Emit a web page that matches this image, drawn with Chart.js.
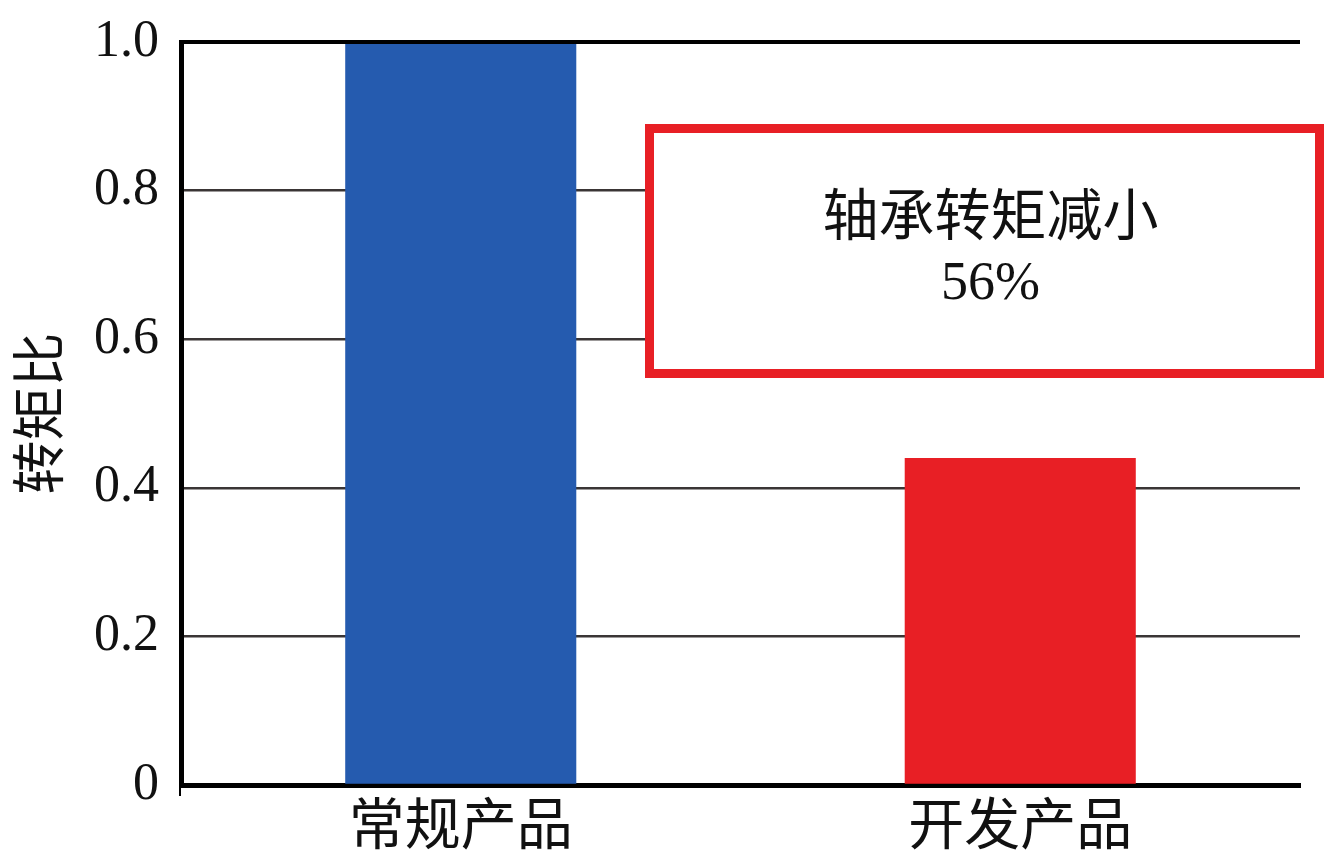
<!DOCTYPE html>
<html>
<head>
<meta charset="utf-8">
<script src="https://cdn.jsdelivr.net/npm/chart.js@4.4.1/dist/chart.umd.min.js"></script>
<style>
  html, body { margin: 0; padding: 0; background: #fff; }
  #wrap { width: 1332px; height: 866px; position: relative; }
</style>
</head>
<body>
<div id="wrap"><canvas id="torqueChart"></canvas></div>
<script>
// data
const categories = ['常规产品', '开发产品'];
const torqueRatio = [1.0, 0.44];
const barColors = ['#255BAF', '#E81F25'];
const yTicks = [0, 0.2, 0.4, 0.6, 0.8, 1.0];
const yTitle = '转矩比';
const noteLines = ['轴承转矩减小', '56%'];

const serif = '"Liberation Serif", "DejaVu Serif", serif';
const cjk = '"Noto Sans CJK SC", sans-serif';

// top line at 1.0, small axis stub and the note box
const overlayPlugin = {
    id: 'overlay',
    afterDatasetsDraw(chart) {
        const ctx = chart.ctx;
        const y = chart.scales.y;
        const area = chart.chartArea;
        ctx.save();
        const topY = y.getPixelForValue(yTicks[yTicks.length - 1]);
        ctx.strokeStyle = '#000';
        ctx.lineWidth = 4;
        ctx.beginPath();
        ctx.moveTo(area.left - 2, topY);
        ctx.lineTo(area.right, topY);
        ctx.stroke();

        // stub below the y axis
        ctx.lineWidth = 2;
        ctx.beginPath();
        ctx.moveTo(area.left - 1, area.bottom);
        ctx.lineTo(area.left - 1, area.bottom + 11);
        ctx.stroke();
        ctx.restore();
    },
    afterDraw(chart) {
        const ctx = chart.ctx;
        ctx.save();
        // note box
        const bx = 645, by = 124, bw = 679, bh = 254, lw = 9;
        ctx.fillStyle = '#fff';
        ctx.fillRect(bx, by, bw, bh);
        ctx.strokeStyle = '#E81F25';
        ctx.lineWidth = lw;
        ctx.strokeRect(bx + lw / 2, by + lw / 2, bw - lw, bh - lw);

        ctx.fillStyle = '#111';
        ctx.textAlign = 'center';
        ctx.textBaseline = 'middle';
        ctx.font = '56px ' + cjk;
        ctx.fillText(noteLines[0], bx + bw / 2 + 6, 214);
        ctx.font = '54px ' + serif;
        ctx.fillText(noteLines[1], bx + bw / 2 + 6, 285);
        ctx.restore();
    }
};

const config = {
    type: 'bar',
    data: {
        labels: categories,
        datasets: [{
            data: torqueRatio,
            backgroundColor: barColors,
            borderWidth: 0,
            categoryPercentage: 1.0,
            barPercentage: 0.413
        }]
    },
    plugins: [overlayPlugin],
    options: {
        responsive: true,
        maintainAspectRatio: false,
        animation: false,
        devicePixelRatio: 1,
        layout: {
            padding: { left: 0, top: 42, right: 32, bottom: 0 }
        },
        plugins: {
            legend: { display: false },
            tooltip: { enabled: false }
        },
        scales: {
            x: {
                grid: { display: false, drawTicks: false },
                border: { display: true, color: '#000', width: 5 },
                ticks: {
                    color: '#111',
                    padding: 4,
                    font: { family: cjk, size: 56 }
                },
                afterFit: (scale) => {
                    scale.height = 81;
                    scale.paddingLeft = 0;
                    scale.paddingRight = 0;
                }
            },
            y: {
                min: 0,
                max: 1.0,
                afterBuildTicks: (scale) => {
                    scale.ticks = yTicks.map(v => ({ value: v }));
                },
                grid: {
                    drawTicks: false,
                    color: (c) => (c.tick && (c.tick.value === 0 || c.tick.value === 1)) ? 'rgba(0,0,0,0)' : '#3a3535',
                    lineWidth: 2.5
                },
                border: { display: true, color: '#000', width: 5 },
                ticks: {
                    color: '#111',
                    padding: 22,
                    font: { family: serif, size: 52 },
                    callback: (v) => v === 0 ? '0' : Number(v).toFixed(1)
                },
                title: {
                    display: true,
                    text: yTitle,
                    color: '#111',
                    font: { family: cjk, size: 54 },
                    padding: { top: 6, bottom: 0 }
                },
                afterFit: (scale) => {
                    scale.width = 181;
                    scale.paddingTop = 0;
                    scale.paddingBottom = 0;
                }
            }
        }
    }
};

new Chart(document.getElementById('torqueChart'), config);
</script>
</body>
</html>
